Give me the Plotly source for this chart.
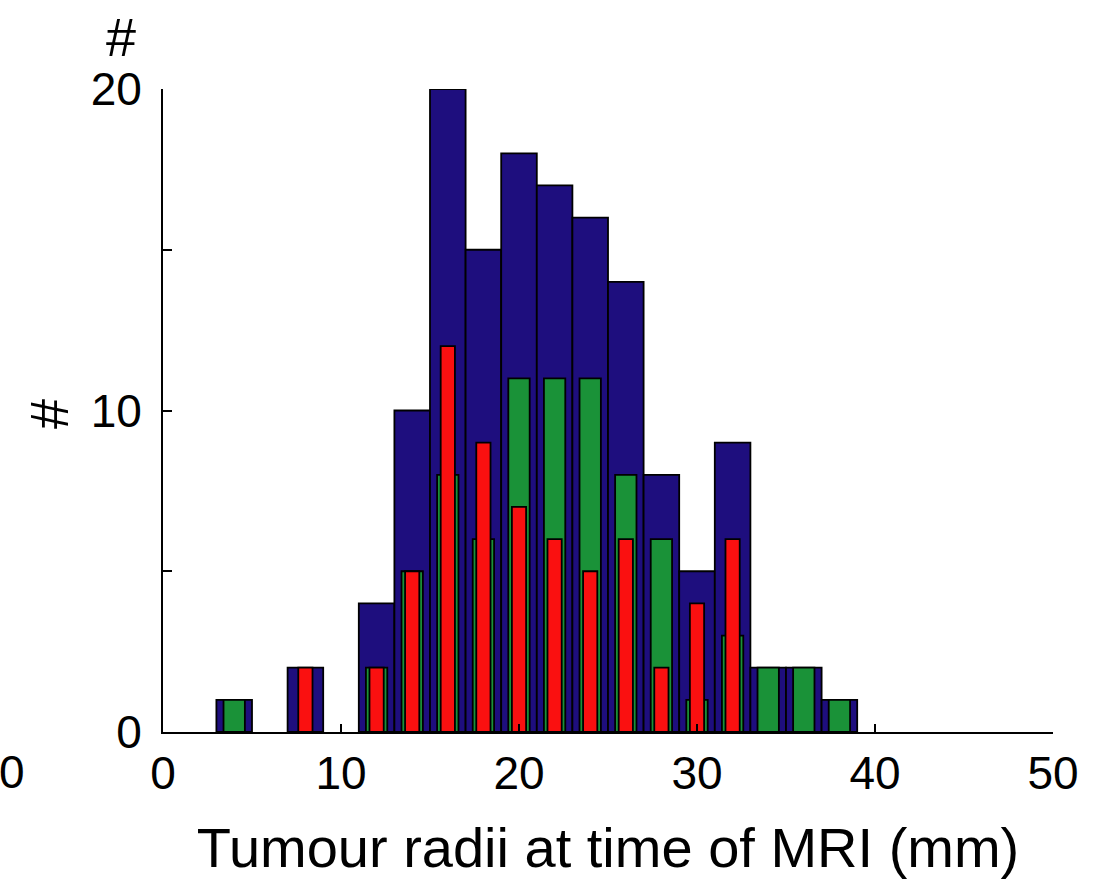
import plotly.graph_objects as go

# Histogram bin centres (mm) and counts per group
bin_centres = [4, 8, 12, 14, 16, 18, 20, 22, 24, 26, 28, 30, 32, 34, 36, 38]
all_counts = [1, 2, 4, 10, 20, 15, 18, 17, 16, 14, 8, 5, 9, 2, 2, 1]
green_counts = [1, 0, 2, 5, 8, 6, 11, 11, 11, 8, 6, 1, 3, 2, 2, 1]
red_counts = [0, 2, 2, 5, 12, 9, 7, 6, 5, 6, 2, 4, 6, 0, 0, 0]

x_ticks = [0, 10, 20, 30, 40, 50]
y_ticks = [0, 5, 10, 15, 20]
y_ticklabels = ["0", "", "10", "", "20"]

FONT = "Liberation Sans, Arial, Helvetica, sans-serif"
BLUE = "rgb(30,14,126)"
GREEN = "rgb(26,146,56)"
RED = "rgb(250,16,16)"


def nonzero(xs, ys):
    pairs = [(x, y) for x, y in zip(xs, ys) if y > 0]
    return [p[0] for p in pairs], [p[1] for p in pairs]


fig = go.Figure()
for counts, colour, width in [
    (all_counts, BLUE, 2.0),
    (green_counts, GREEN, 1.2),
    (red_counts, RED, 0.8),
]:
    xs, ys = nonzero(bin_centres, counts)
    fig.add_trace(go.Bar(
        x=xs, y=ys, width=width,
        marker=dict(color=colour, line=dict(color="black", width=1.8)),
        showlegend=False,
    ))

fig.update_layout(
    width=1095, height=880,
    margin=dict(l=163, r=42, t=89, b=148),
    barmode="overlay",
    plot_bgcolor="white", paper_bgcolor="white",
    font=dict(family=FONT, size=46, color="black"),
    xaxis=dict(
        range=[0, 50], tickvals=x_ticks, ticks="inside", ticklen=8,
        tickwidth=1.5, tickcolor="black", showline=True, linecolor="black",
        linewidth=2, showgrid=False, zeroline=False,
        tickfont=dict(size=46), ticklabelstandoff=0,
        title=dict(text="Tumour radii at time of MRI (mm)",
                   font=dict(size=56), standoff=30),
    ),
    yaxis=dict(
        range=[0, 20], tickvals=y_ticks, ticktext=y_ticklabels,
        ticks="inside", ticklen=9, tickwidth=1.5, tickcolor="black",
        showline=True, linecolor="black", linewidth=2, showgrid=False,
        zeroline=False, tickfont=dict(size=46), ticklabelstandoff=10,
    ),
    annotations=[
        dict(text="#", x=121, y=37, showarrow=False, font=dict(size=54)),
        dict(text="#", textangle=-90, x=49, y=414, showarrow=False,
             font=dict(size=54)),
        dict(text="0", x=12, y=772, showarrow=False, font=dict(size=46)),
    ],
)

# Place the free-floating labels in pixel terms of the full canvas
W, H = 1095, 880
l, r, t, b = 163, 42, 89, 148
pw, ph = W - l - r, H - t - b
for ann in fig.layout.annotations:
    px, py = ann.x, ann.y
    ann.xref, ann.yref = "paper", "paper"
    ann.x = (px - l) / pw
    ann.y = (H - b - py) / ph
    ann.xanchor, ann.yanchor = "center", "middle"

fig.write_html("out.html")
